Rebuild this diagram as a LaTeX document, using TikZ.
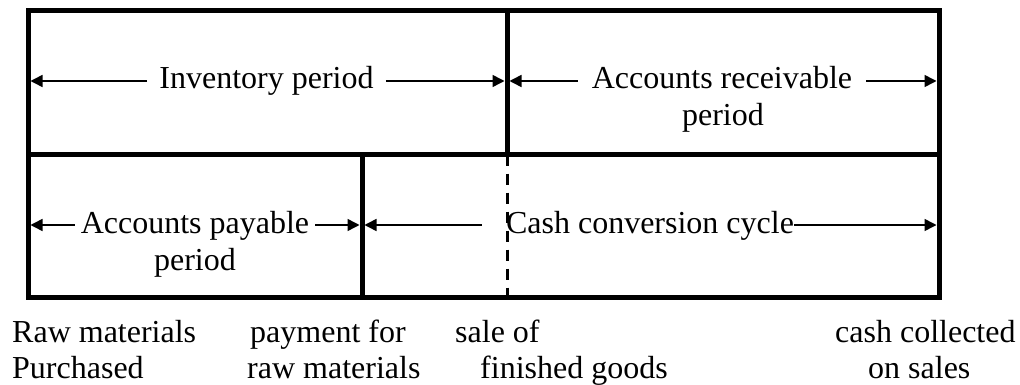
\documentclass[tikz,border=0pt]{standalone}
\usepackage{fontspec}
\setmainfont{Liberation Serif}
\usetikzlibrary{
  arrows.meta,
  calc
}
\tikzset{
  frameline/.style={line width=5pt,line cap=rect},
  saleline/.style={line width=3pt,dash pattern=on 11pt off 8pt},
  spanlabel/.style={anchor=base,inner ysep=0pt,inner xsep=12pt,font=\fontsize{32}{37}\selectfont},
  eventlabel/.style={anchor=base west,inner sep=0pt,font=\fontsize{32}{37}\selectfont},
  spanarrow/.style={-{Triangle[length=12pt,width=12pt]},line width=1.5pt,shorten >=2.5pt}
}

\begin{document}
\begin{tikzpicture}[x=1pt,y=-1pt]
\useasboundingbox (0,0) rectangle (1020,385);

% frame corners and dividers
\coordinate (tl) at (28,10.5);
\coordinate (br) at (939,297);
\coordinate (ml) at (28,154.5);
\coordinate (mr) at (939,154.5);
\coordinate (st) at (507,10.5);
\coordinate (sm) at (507,154.5);
\coordinate (sb) at (507,297);
\coordinate (pm) at (362,154.5);
\coordinate (pb) at (362,297);

\draw[frameline] (tl) rectangle (br);
\draw[frameline] (ml) -- (mr);
\draw[frameline] (st) -- (sm);
\draw[frameline] (pm) -- (pb);
\draw[saleline] (sm) -- (sb);

% period labels
\node[spanlabel] (inv) at (266.5,89) {Inventory period};
\node[spanlabel,inner xsep=14pt] (rec) at (722,89) {Accounts receivable};
\node[spanlabel] (recp) at (723,126) {period};
\node[spanlabel,inner xsep=6pt] (pay) at (195,233) {Accounts payable};
\node[spanlabel] (payp) at (195,270) {period};
\node[spanlabel,inner xsep=0pt] (ccc) at (650,233) {Cash conversion cycle};

\draw[spanarrow] ([yshift=8pt]inv.base west) -- ([yshift=8pt]inv.base west -| tl);
\draw[spanarrow] ([yshift=8pt]inv.base east) -- ([yshift=8pt]inv.base east -| st);
\draw[spanarrow] ([yshift=8pt]rec.base west) -- ([yshift=8pt]rec.base west -| st);
\draw[spanarrow] ([yshift=8pt]rec.base east) -- ([yshift=8pt]rec.base east -| br);
\draw[spanarrow] ([yshift=8pt]pay.base west) -- ([yshift=8pt]pay.base west -| tl);
\draw[spanarrow] ([yshift=8pt]pay.base east) -- ([yshift=8pt]pay.base east -| pm);
\draw[spanarrow] ([xshift=-24pt,yshift=8pt]ccc.base west) -- ([yshift=8pt]ccc.base west -| pm);
\draw[spanarrow] ([yshift=8pt]ccc.base east) -- ([yshift=8pt]ccc.base east -| br);

% events under the time line
\node[eventlabel] (raw1) at (12,342) {Raw materials};
\node[eventlabel] (raw2) at (12,378) {Purchased};
\node[eventlabel] (pay1) at (250,342) {payment for};
\node[eventlabel] (pay2) at (247,378) {raw materials};
\node[eventlabel] (sale1) at (455,342) {sale of};
\node[eventlabel] (sale2) at (480,378) {finished goods};
\node[eventlabel] (cash1) at (835,342) {cash collected};
\node[eventlabel] (cash2) at (868,378) {on sales};
\end{tikzpicture}
\end{document}
